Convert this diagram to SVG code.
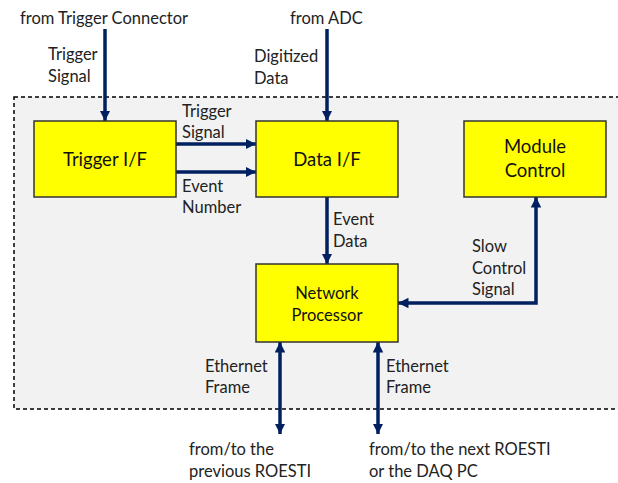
<svg xmlns="http://www.w3.org/2000/svg" width="618" height="483" viewBox="0 0 618 483">
<style>
.box{fill:#FFFF00;stroke:#333;stroke-width:1.5}
.lbl{font-family:Lato,"Open Sans",sans-serif;font-size:16.5px;fill:#222}
.big{font-family:Lato,"Open Sans",sans-serif;font-size:18.5px;fill:#111}
.mid{font-family:Lato,"Open Sans",sans-serif;font-size:16.5px;fill:#111}
.wire{stroke:#002060;stroke-width:3.5;fill:none}
</style>
<defs>
<marker id="ah" viewBox="0 0 10 10" refX="10" refY="5" markerWidth="3" markerHeight="3" orient="auto-start-reverse" markerUnits="strokeWidth">
<path d="M0,0 L10,5 L0,10 z" fill="#002060"/>
</marker>
</defs>
<rect x="14" y="97" width="610" height="312" fill="#F2F2F2" stroke="#000" stroke-width="1.5" stroke-dasharray="4,3"/>
<g id="connectors">
<line class="wire" x1="105" y1="29" x2="105" y2="121" marker-end="url(#ah)"/>
<line class="wire" x1="327" y1="29" x2="327" y2="121" marker-end="url(#ah)"/>
<line class="wire" x1="176" y1="144" x2="256" y2="144" marker-end="url(#ah)"/>
<line class="wire" x1="176" y1="172" x2="256" y2="172" marker-end="url(#ah)"/>
<line class="wire" x1="327" y1="197" x2="327" y2="264" marker-end="url(#ah)"/>
<polyline class="wire" points="398,303 536,303 536,197" marker-start="url(#ah)" marker-end="url(#ah)"/>
<line class="wire" x1="280" y1="342" x2="280" y2="434" marker-start="url(#ah)" marker-end="url(#ah)"/>
<line class="wire" x1="378" y1="342" x2="378" y2="434" marker-start="url(#ah)" marker-end="url(#ah)"/>
</g>
<g id="trigger-if">
<rect class="box" x="34" y="121" width="142" height="76"/>
<text class="big" x="105" y="166" text-anchor="middle">Trigger I/F</text>
</g>
<g id="data-if">
<rect class="box" x="256" y="121" width="142" height="76"/>
<text class="big" x="327" y="166" text-anchor="middle">Data I/F</text>
</g>
<g id="module-control">
<rect class="box" x="464" y="121" width="142" height="76"/>
<text class="big" x="535" y="153" text-anchor="middle">Module</text>
<text class="big" x="535" y="177" text-anchor="middle">Control</text>
</g>
<g id="network-processor">
<rect class="box" x="256" y="264" width="142" height="78"/>
<text class="mid" x="327" y="299" text-anchor="middle">Network</text>
<text class="mid" x="327" y="321" text-anchor="middle">Processor</text>
</g>
<g id="labels">
<text class="lbl" x="20" y="24">from Trigger Connector</text>
<text class="lbl" x="48" y="60">Trigger</text>
<text class="lbl" x="48" y="82">Signal</text>
<text class="lbl" x="290" y="24">from ADC</text>
<text class="lbl" x="254" y="62">Digitized</text>
<text class="lbl" x="254" y="84">Data</text>
<text class="lbl" x="182" y="117">Trigger</text>
<text class="lbl" x="182" y="138">Signal</text>
<text class="lbl" x="182" y="192">Event</text>
<text class="lbl" x="182" y="213">Number</text>
<text class="lbl" x="333" y="225">Event</text>
<text class="lbl" x="333" y="247">Data</text>
<text class="lbl" x="472" y="252">Slow</text>
<text class="lbl" x="472" y="274">Control</text>
<text class="lbl" x="472" y="295">Signal</text>
<text class="lbl" x="205" y="372">Ethernet</text>
<text class="lbl" x="205" y="393">Frame</text>
<text class="lbl" x="386" y="372">Ethernet</text>
<text class="lbl" x="386" y="393">Frame</text>
<text class="lbl" x="189" y="455">from/to the</text>
<text class="lbl" x="189" y="477">previous ROESTI</text>
<text class="lbl" x="369" y="455">from/to the next ROESTI</text>
<text class="lbl" x="369" y="477">or the DAQ PC</text>
</g>
</svg>
